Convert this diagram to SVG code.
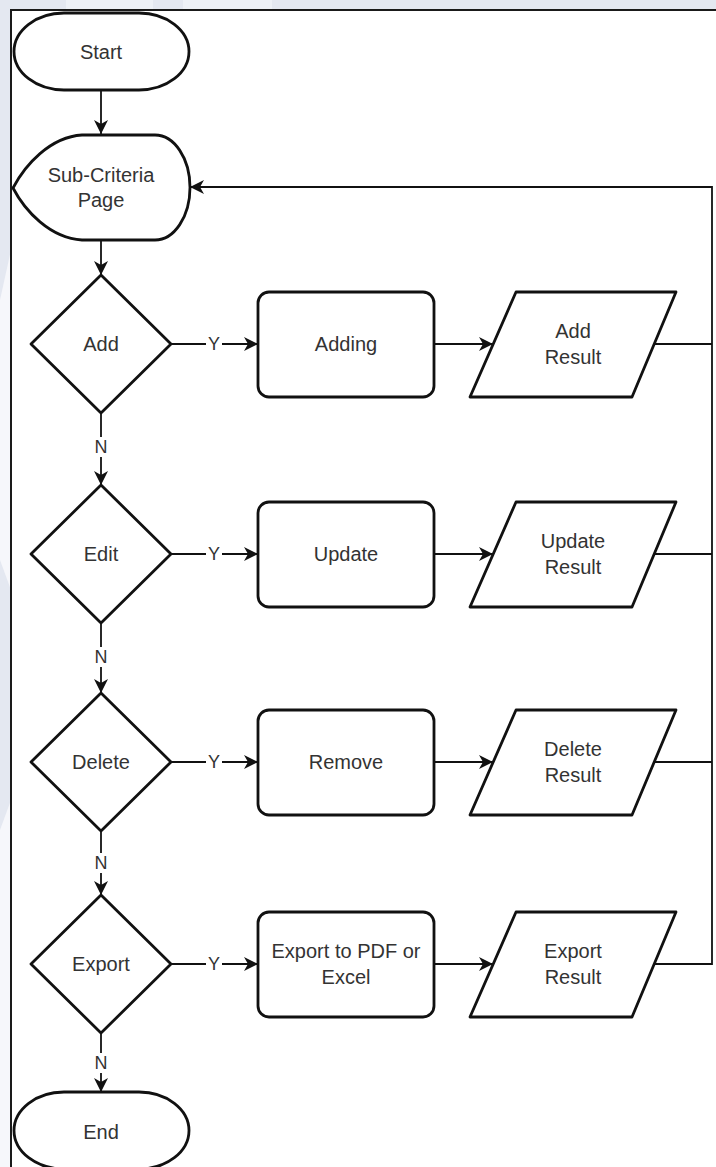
<svg xmlns="http://www.w3.org/2000/svg" width="716" height="1167" viewBox="0 0 716 1167">
  <defs>
    <marker id="arrow" viewBox="-15 -8 16 16" refX="0" refY="0" markerWidth="16" markerHeight="16" markerUnits="userSpaceOnUse" orient="auto">
      <path d="M0,0 L-14,-7 L-10,0 L-14,7 Z" fill="#111"/>
    </marker>
  </defs>
  <style>
    .shape { fill: #fff; stroke: #111; stroke-width: 2.8; stroke-linejoin: round; }
    .edge { fill: none; stroke: #111; stroke-width: 1.8; }
    .label { font-family: "Liberation Sans", Arial, sans-serif; font-size: 20px; fill: #333; text-anchor: middle; dominant-baseline: central; }
    .tag { font-family: "Liberation Sans", Arial, sans-serif; font-size: 18px; fill: #333; text-anchor: middle; dominant-baseline: central; }
    .tagbg { fill: #fff; }
    .tint { fill: #e4e8f1; }
  </style>

  <!-- page backdrop and frame -->
  <rect x="0" y="0" width="716" height="1167" fill="#f6f7fb"/>
  <rect class="tint" x="0" y="0" width="716" height="10"/>
  <polygon class="tint" points="0,0 11,0 11,250 0,300"/>
  <polygon class="tint" points="0,560 11,590 11,800 0,830"/>
  <rect x="66" y="0" width="87" height="9" fill="#eef1f7"/>
  <rect x="183" y="0" width="89" height="9" fill="#eef1f7"/>
  <rect x="11" y="10" width="720" height="1170" fill="#fff" stroke="#1a1a1a" stroke-width="2"/>

  <!-- connectors -->
  <g id="connectors">
    <path class="edge" d="M101,90 V134" marker-end="url(#arrow)"/>
    <path class="edge" d="M101,240 V275" marker-end="url(#arrow)"/>

    <path class="edge" d="M171,344 H258" marker-end="url(#arrow)"/>
    <path class="edge" d="M434,344 H493" marker-end="url(#arrow)"/>
    <path class="edge" d="M654,344 H712"/>

    <path class="edge" d="M171,554 H258" marker-end="url(#arrow)"/>
    <path class="edge" d="M434,554 H493" marker-end="url(#arrow)"/>
    <path class="edge" d="M654,554 H712"/>

    <path class="edge" d="M171,762 H258" marker-end="url(#arrow)"/>
    <path class="edge" d="M434,762 H493" marker-end="url(#arrow)"/>
    <path class="edge" d="M654,762 H712"/>

    <path class="edge" d="M171,964 H258" marker-end="url(#arrow)"/>
    <path class="edge" d="M434,964 H493" marker-end="url(#arrow)"/>
    <path class="edge" d="M654,964 H712 V187 H190" marker-end="url(#arrow)"/>

    <path class="edge" d="M101,413 V485" marker-end="url(#arrow)"/>
    <path class="edge" d="M101,623 V693" marker-end="url(#arrow)"/>
    <path class="edge" d="M101,831 V895" marker-end="url(#arrow)"/>
    <path class="edge" d="M101,1033 V1092" marker-end="url(#arrow)"/>

    <!-- Y / N labels -->
    <rect class="tagbg" x="206" y="334" width="16" height="20"/>
    <text class="tag" x="214" y="344">Y</text>
    <rect class="tagbg" x="206" y="544" width="16" height="20"/>
    <text class="tag" x="214" y="554">Y</text>
    <rect class="tagbg" x="206" y="752" width="16" height="20"/>
    <text class="tag" x="214" y="762">Y</text>
    <rect class="tagbg" x="206" y="954" width="16" height="20"/>
    <text class="tag" x="214" y="964">Y</text>

    <rect class="tagbg" x="93" y="437" width="16" height="20"/>
    <text class="tag" x="101" y="447">N</text>
    <rect class="tagbg" x="93" y="647" width="16" height="20"/>
    <text class="tag" x="101" y="657">N</text>
    <rect class="tagbg" x="93" y="853" width="16" height="20"/>
    <text class="tag" x="101" y="863">N</text>
    <rect class="tagbg" x="93" y="1053" width="16" height="20"/>
    <text class="tag" x="101" y="1063">N</text>
  </g>

  <!-- terminators -->
  <g id="start">
    <rect class="shape" x="14" y="13" width="175" height="77" rx="50" ry="38.5"/>
    <text class="label" x="101" y="52">Start</text>
  </g>
  <g id="end">
    <rect class="shape" x="14" y="1092" width="175" height="77" rx="50" ry="38.5"/>
    <text class="label" x="101" y="1132">End</text>
  </g>

  <!-- display page -->
  <g id="sub-criteria-page">
    <path class="shape" d="M13,188 C25,165 50,137 82,135 L155,135 A35,52.5 0 0 1 155,240 L82,240 C50,238 25,211 13,188 Z"/>
    <text class="label" x="101" y="175">Sub-Criteria</text>
    <text class="label" x="101" y="200">Page</text>
  </g>

  <!-- decisions -->
  <g id="add">
    <path class="shape" d="M101,275 L171,344 L101,413 L31,344 Z"/>
    <text class="label" x="101" y="344">Add</text>
  </g>
  <g id="edit">
    <path class="shape" d="M101,485 L171,554 L101,623 L31,554 Z"/>
    <text class="label" x="101" y="554">Edit</text>
  </g>
  <g id="delete">
    <path class="shape" d="M101,693 L171,762 L101,831 L31,762 Z"/>
    <text class="label" x="101" y="762">Delete</text>
  </g>
  <g id="export">
    <path class="shape" d="M101,895 L171,964 L101,1033 L31,964 Z"/>
    <text class="label" x="101" y="964">Export</text>
  </g>

  <!-- processes -->
  <g id="adding">
    <rect class="shape" x="258" y="292" width="176" height="105" rx="11"/>
    <text class="label" x="346" y="344">Adding</text>
  </g>
  <g id="update">
    <rect class="shape" x="258" y="502" width="176" height="105" rx="11"/>
    <text class="label" x="346" y="554">Update</text>
  </g>
  <g id="remove">
    <rect class="shape" x="258" y="710" width="176" height="105" rx="11"/>
    <text class="label" x="346" y="762">Remove</text>
  </g>
  <g id="export-file">
    <rect class="shape" x="258" y="912" width="176" height="105" rx="11"/>
    <text class="label" x="346" y="951">Export to PDF or</text>
    <text class="label" x="346" y="977">Excel</text>
  </g>

  <!-- results -->
  <g id="add-result">
    <path class="shape" d="M516,292 L676,292 L632,397 L470,397 Z"/>
    <text class="label" x="573" y="331">Add</text>
    <text class="label" x="573" y="357">Result</text>
  </g>
  <g id="update-result">
    <path class="shape" d="M516,502 L676,502 L632,607 L470,607 Z"/>
    <text class="label" x="573" y="541">Update</text>
    <text class="label" x="573" y="567">Result</text>
  </g>
  <g id="delete-result">
    <path class="shape" d="M516,710 L676,710 L632,815 L470,815 Z"/>
    <text class="label" x="573" y="749">Delete</text>
    <text class="label" x="573" y="775">Result</text>
  </g>
  <g id="export-result">
    <path class="shape" d="M516,912 L676,912 L632,1017 L470,1017 Z"/>
    <text class="label" x="573" y="951">Export</text>
    <text class="label" x="573" y="977">Result</text>
  </g>
</svg>
